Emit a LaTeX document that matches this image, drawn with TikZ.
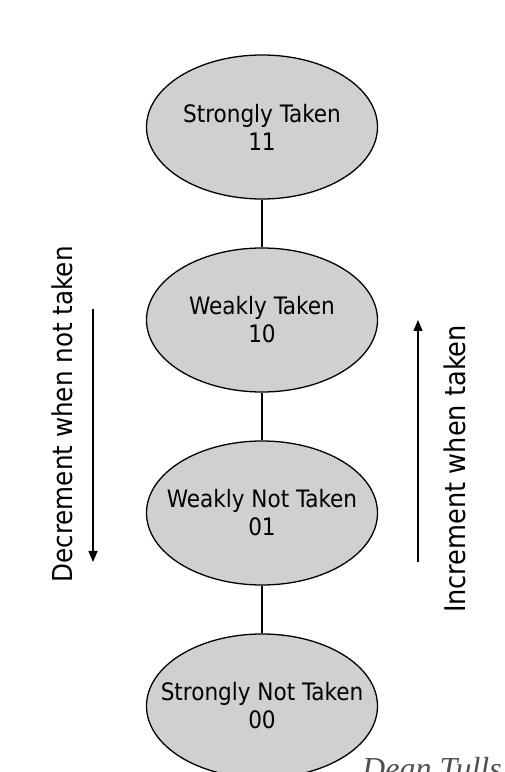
\documentclass[tikz,border=0pt]{standalone}
\usepackage{fontspec}
\IfFontExistsTF{DejaVu Sans Condensed}
  {\setmainfont{DejaVu Sans Condensed}}
  {\setmainfont{DejaVu Sans}[FakeStretch=0.9]}
\newfontfamily\sigfont{Liberation Serif}
\usetikzlibrary{shapes.geometric,arrows.meta}
\definecolor{ellfill}{RGB}{208,208,208}
\definecolor{sigcol}{RGB}{80,80,80}
\tikzset{
  statebox/.style={ellipse, draw=black, line width=1.3pt, fill=ellfill,
    minimum width=231pt, minimum height=144pt, inner sep=0pt},
  statetext/.style={align=center, inner sep=0pt, font=\fontsize{24}{28}\selectfont},
  link/.style={draw=black, line width=1.1pt},
  sidearrow/.style={draw=black, line width=1.3pt, -{Triangle[width=9pt,length=11pt]}},
  sidelabel/.style={rotate=90, inner sep=0pt}
}
\begin{document}
\begin{tikzpicture}[x=1pt,y=1pt]
\useasboundingbox (0,0) rectangle (504,772);
\clip (0,0) rectangle (504,772);
\node[statebox, label={[statetext]center:Strongly Taken\\11}] (st) at (262,645) {};
\node[statebox, label={[statetext]center:Weakly Taken\\10}] (wt) at (262,452) {};
\node[statebox, label={[statetext]center:Weakly Not Taken\\01}] (wn) at (262,259) {};
\node[statebox, label={[statetext]center:Strongly Not Taken\\00}] (sn) at (262,66) {};
\draw[link] (st) -- (wt);
\draw[link] (wt) -- (wn);
\draw[link] (wn) -- (sn);
\coordinate (la1) at (93,463);
\coordinate (la2) at (93,210);
\coordinate (ra1) at (418,210);
\coordinate (ra2) at (418,452);
\draw[sidearrow] (la1) -- (la2);
\draw[sidearrow] (ra1) -- (ra2);
\node[sidelabel, font=\fontsize{27.4}{32}\selectfont] (dec) at (62,357.5) {Decrement when not taken};
\node[sidelabel, font=\fontsize{28.5}{32}\selectfont] (inc) at (455,303) {Increment when taken};
\node[anchor=base west, inner sep=0pt, text=sigcol, font=\sigfont\itshape\fontsize{32}{36}\selectfont] (sig) at (362,-7) {Dean Tulls};
\end{tikzpicture}
\end{document}
